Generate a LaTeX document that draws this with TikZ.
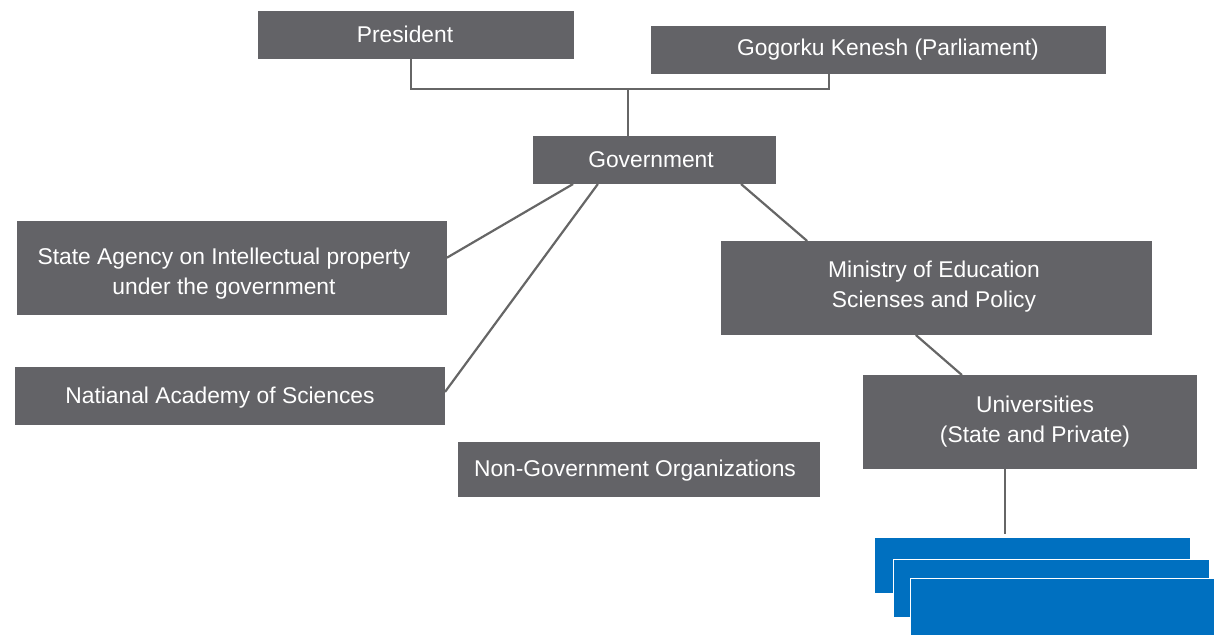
\documentclass[tikz,border=0pt]{standalone}
\usepackage{fontspec}
\setmainfont{Liberation Sans}
\usetikzlibrary{calc}
\definecolor{boxgray}{HTML}{636367}
\definecolor{linegray}{HTML}{666666}
\definecolor{stackblue}{HTML}{0070C0}
\tikzset{
  orgbox/.style={fill=boxgray, draw=none, inner sep=0pt, outer sep=0pt, anchor=north west},
  bluebox/.style={fill=stackblue, draw=white, line width=0.8pt, inner sep=0pt, outer sep=0pt, anchor=north west},
  lbl/.style={text=white, align=center, inner sep=0pt, font=\fontsize{22.8}{30}\selectfont},
  conn/.style={draw=linegray, line width=2.2pt}
}
\begin{document}
\begin{tikzpicture}[x=1pt, y=-1pt]
\useasboundingbox (0,0) rectangle (1214,634);

% boxes
\node[orgbox, minimum width=316pt, minimum height=48pt] (pres) at (258,11) {};
\node[orgbox, minimum width=455pt, minimum height=48pt] (ken) at (651,26) {};
\node[orgbox, minimum width=243pt, minimum height=48pt] (gov) at (533,136) {};
\node[orgbox, minimum width=430pt, minimum height=94pt] (sa) at (17,221) {};
\node[orgbox, minimum width=430pt, minimum height=58pt] (nas) at (15,367) {};
\node[orgbox, minimum width=362pt, minimum height=55pt] (ngo) at (458,442) {};
\node[orgbox, minimum width=431pt, minimum height=94pt] (min) at (721,241) {};
\node[orgbox, minimum width=334pt, minimum height=94pt] (uni) at (863,375) {};

% stacked blue boxes
\node[bluebox, minimum width=316pt, minimum height=56pt] (b1) at (874,537) {};
\node[bluebox, minimum width=316pt, minimum height=58pt] (b2) at (893,559) {};
\node[bluebox, minimum width=306pt, minimum height=58pt] (b3) at (910,578) {};

% labels
\node[lbl] (tpres) at (405,34) {President};
\node[lbl] (tken) at (888,50) {Gogorku Kenesh (Parliament)};
\node[lbl] (tgov) at (651,160) {Government};
\node[lbl] (tsa) at (224,273.5) {State Agency on Intellectual property\\under the government};
\node[lbl] (tnas) at (220,398) {Natianal Academy of Sciences};
\node[lbl] (tngo) at (635,471) {Non-Government Organizations};
\node[lbl] (tmin) at (934,286.5) {Ministry of Education\\Scienses and Policy};
\node[lbl] (tuni) at (1035,421.5) {Universities\\(State and Private)};

% connectors
\coordinate (jn) at (628,89);
\draw[conn] ($(pres.south west)!0.484!(pres.south east)$) |- (jn) -| ($(ken.south west)!0.391!(ken.south east)$);
\draw[conn] (jn) -- (jn |- gov.north);
\draw[conn] ($(gov.south west)!0.165!(gov.south east)$) -- ($(sa.north east)!0.39!(sa.south east)$);
\draw[conn] ($(gov.south west)!0.267!(gov.south east)$) -- ($(nas.north east)!0.43!(nas.south east)$);
\draw[conn] ($(gov.south west)!0.856!(gov.south east)$) -- ($(min.north west)!0.2!(min.north east)$);
\draw[conn] ($(min.south west)!0.452!(min.south east)$) -- ($(uni.north west)!0.296!(uni.north east)$);
\coordinate (ub) at ($(uni.south west)!0.425!(uni.south east)$);
\draw[conn, shorten >=3pt] (ub) -- (ub |- b1.north);
\end{tikzpicture}
\end{document}
